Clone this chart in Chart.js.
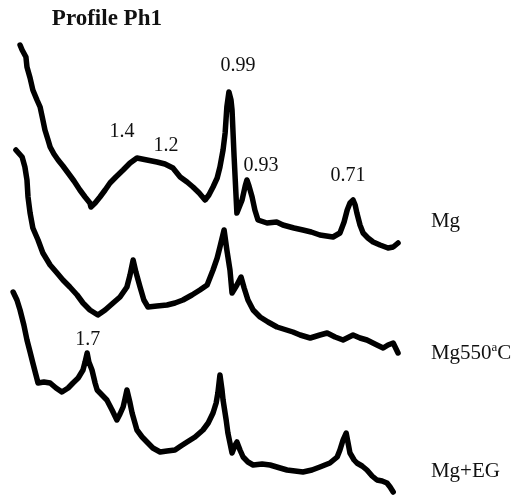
<!DOCTYPE html>
<html>
<head>
<meta charset="utf-8">
<script src="https://cdn.jsdelivr.net/npm/chart.js@4/dist/chart.umd.min.js"></script>
<style>
  html, body { margin: 0; padding: 0; background: #fff; }
  #wrap { width: 517px; height: 496px; }
</style>
</head>
<body>
<div id="wrap"><canvas id="xrd" width="517" height="496"></canvas></div>
<script>
// 2-theta (deg) and intensity (a.u., stacked)
const mgTheta = [2.88, 2.94, 3.05, 3.08, 3.17, 3.25, 3.37, 3.46, 3.54, 3.60, 3.69, 3.75, 3.86, 3.98, 4.12, 4.27, 4.44, 4.61, 4.76, 4.90, 4.93, 5.05, 5.19, 5.34, 5.48, 5.65, 5.86, 6.06, 6.26, 6.55, 6.84, 7.07, 7.30, 7.51, 7.71, 7.88, 8.06, 8.23, 8.34, 8.46, 8.58, 8.66, 8.75, 8.81, 8.86, 8.92, 8.98, 9.01, 9.07, 9.15, 9.30, 9.39, 9.44, 9.50, 9.59, 9.67, 9.76, 10.02, 10.30, 10.48, 10.80, 11.06, 11.30, 11.55, 11.93, 12.13, 12.25, 12.34, 12.42, 12.51, 12.57, 12.62, 12.71, 12.80, 12.94, 13.09, 13.29, 13.52, 13.67, 13.81];
const mgInt = [451, 446, 439, 429, 418, 406, 396, 389, 376, 366, 356, 349, 342, 336, 330, 323, 315, 306, 299, 293, 289, 293, 299, 306, 313, 319, 326, 333, 338, 336, 334, 332, 328, 319, 314, 309, 303, 296, 301, 309, 318, 329, 346, 363, 389, 404, 396, 386, 339, 283, 296, 310, 316, 310, 299, 286, 276, 273, 274, 271, 268, 266, 264, 261, 259, 263, 274, 286, 293, 296, 291, 283, 271, 263, 258, 254, 251, 248, 249, 253];

const mg550Theta = [2.76, 2.94, 3.02, 3.08, 3.11, 3.17, 3.25, 3.40, 3.54, 3.75, 3.95, 4.12, 4.32, 4.53, 4.70, 4.90, 5.13, 5.34, 5.57, 5.77, 5.97, 6.06, 6.15, 6.23, 6.35, 6.46, 6.58, 6.84, 7.13, 7.36, 7.59, 7.85, 8.08, 8.29, 8.46, 8.58, 8.66, 8.78, 8.86, 8.95, 9.01, 9.15, 9.27, 9.36, 9.47, 9.62, 9.82, 10.05, 10.31, 10.77, 10.98, 11.27, 11.55, 11.76, 11.99, 12.22, 12.51, 12.71, 12.91, 13.20, 13.38, 13.52, 13.67, 13.81];
const mg550Int = [346, 339, 329, 316, 299, 283, 268, 256, 243, 231, 223, 216, 209, 201, 193, 186, 181, 186, 193, 199, 209, 221, 236, 224, 209, 196, 189, 190, 191, 193, 196, 201, 206, 211, 226, 238, 249, 266, 246, 226, 203, 211, 219, 208, 196, 186, 179, 174, 169, 164, 161, 158, 161, 163, 159, 156, 161, 158, 156, 151, 148, 151, 153, 143];

const egTheta = [2.68, 2.79, 2.88, 2.99, 3.08, 3.17, 3.25, 3.34, 3.40, 3.57, 3.75, 3.92, 4.09, 4.27, 4.41, 4.56, 4.70, 4.76, 4.82, 4.87, 4.96, 5.05, 5.11, 5.25, 5.39, 5.54, 5.68, 5.77, 5.86, 5.92, 5.97, 6.06, 6.12, 6.26, 6.41, 6.55, 6.72, 6.93, 7.13, 7.36, 7.53, 7.71, 7.94, 8.17, 8.32, 8.46, 8.55, 8.60, 8.66, 8.72, 8.75, 8.84, 8.89, 9.01, 9.10, 9.15, 9.24, 9.33, 9.47, 9.62, 9.88, 10.11, 10.40, 10.60, 10.83, 11.06, 11.32, 11.55, 11.84, 12.05, 12.13, 12.22, 12.31, 12.36, 12.42, 12.54, 12.62, 12.77, 12.91, 13.06, 13.20, 13.35, 13.49, 13.58, 13.67];
const egInt = [204, 196, 186, 171, 156, 144, 133, 121, 113, 114, 113, 108, 104, 108, 113, 118, 126, 134, 143, 134, 126, 113, 106, 101, 96, 86, 76, 82, 89, 98, 106, 93, 83, 66, 59, 54, 48, 44, 45, 46, 50, 54, 59, 66, 73, 83, 93, 103, 121, 106, 96, 76, 63, 43, 51, 54, 46, 39, 34, 31, 32, 31, 28, 26, 25, 24, 26, 29, 33, 39, 46, 56, 63, 54, 43, 36, 33, 30, 26, 20, 16, 15, 13, 9, 4];

// d-spacing labels (nm) and where they sit
const peakLabels = ['1.4', '1.2', '0.99', '0.93', '0.71', '1.7'];
const peakLabelTheta = [5.83, 7.10, 9.18, 9.85, 12.36, 4.84];
const peakLabelInt = [364, 350, 430, 330, 320, 156];

const sampleNames = ['Mg', 'Mg550', 'Mg+EG'];
const sampleNameInt = [269, 137, 19];

function toPoints(xs, ys) {
  return xs.map((x, i) => ({ x: x, y: ys[i] }));
}

const textPlugin = {
  id: 'xrdText',
  afterDatasetsDraw(chart) {
    const ctx = chart.ctx;
    const xs = chart.scales.x;
    const ys = chart.scales.y;
    ctx.save();
    ctx.fillStyle = '#111';

    // title
    ctx.font = 'bold 23px "Liberation Serif", "Times New Roman", serif';
    ctx.textAlign = 'left';
    ctx.textBaseline = 'alphabetic';
    ctx.fillText('Profile Ph1', xs.getPixelForValue(3.80), ys.getPixelForValue(471));

    // peak labels
    ctx.font = '20px "Liberation Serif", "Times New Roman", serif';
    ctx.textAlign = 'center';
    ctx.textBaseline = 'middle';
    peakLabels.forEach((t, i) => {
      ctx.fillText(t, xs.getPixelForValue(peakLabelTheta[i]), ys.getPixelForValue(peakLabelInt[i]));
    });

    // sample names on the right
    ctx.textAlign = 'left';
    ctx.textBaseline = 'alphabetic';
    const nameX = xs.getPixelForValue(14.76);
    sampleNames.forEach((t, i) => {
      const y = ys.getPixelForValue(sampleNameInt[i]);
      ctx.font = '21px "Liberation Serif", "Times New Roman", serif';
      ctx.fillText(t, nameX, y);
      if (t === 'Mg550') {
        // superscript "a" then C, as in the original caption
        let x = nameX + ctx.measureText(t).width;
        ctx.font = '13px "Liberation Serif", "Times New Roman", serif';
        ctx.fillText('a', x, y - 8);
        x += ctx.measureText('a').width;
        ctx.font = '21px "Liberation Serif", "Times New Roman", serif';
        ctx.fillText('C', x, y);
      }
    });
    ctx.restore();
  }
};

const lineStyle = {
  borderColor: '#000',
  borderWidth: 5.5,
  pointRadius: 0,
  tension: 0,
  fill: false,
  borderJoinStyle: 'round',
  borderCapStyle: 'round'
};

new Chart(document.getElementById('xrd').getContext('2d'), {
  type: 'line',
  data: {
    datasets: [
      Object.assign({ label: 'Mg', data: toPoints(mgTheta, mgInt) }, lineStyle),
      Object.assign({ label: 'Mg550aC', data: toPoints(mg550Theta, mg550Int) }, lineStyle),
      Object.assign({ label: 'Mg+EG', data: toPoints(egTheta, egInt) }, lineStyle)
    ]
  },
  options: {
    responsive: false,
    animation: false,
    devicePixelRatio: 1,
    layout: { padding: 0 },
    clip: false,
    scales: {
      x: { type: 'linear', min: 2.3, max: 17.25, display: false },
      y: { type: 'linear', min: 0, max: 496, display: false }
    },
    plugins: {
      legend: { display: false },
      tooltip: { enabled: false }
    }
  },
  plugins: [textPlugin]
});
</script>
</body>
</html>
